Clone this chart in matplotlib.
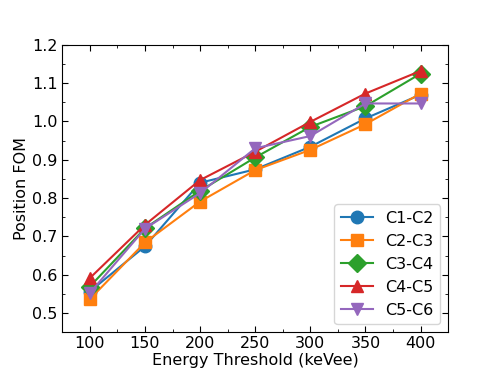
import matplotlib
matplotlib.use("Agg")
import matplotlib.pyplot as plt
from matplotlib.ticker import MultipleLocator

thresholds = [100, 150, 200, 250, 300, 350, 400]

c1_c2 = [0.556, 0.674, 0.840, 0.875, 0.934, 1.008, 1.070]
c2_c3 = [0.536, 0.684, 0.791, 0.873, 0.926, 0.993, 1.073]
c3_c4 = [0.569, 0.721, 0.819, 0.906, 0.986, 1.040, 1.125]
c4_c5 = [0.591, 0.730, 0.847, 0.921, 0.999, 1.073, 1.132]
c5_c6 = [0.552, 0.720, 0.813, 0.930, 0.962, 1.047, 1.047]

labels = ["C1-C2", "C2-C3", "C3-C4", "C4-C5", "C5-C6"]
markers = ["o", "s", "D", "^", "v"]

plt.rcParams["font.size"] = 11.5

fig, ax = plt.subplots(figsize=(4.98, 3.74), dpi=100)
fig.subplots_adjust(left=0.125, right=0.9, top=0.88, bottom=0.112)

for values, label, marker in zip([c1_c2, c2_c3, c3_c4, c4_c5, c5_c6], labels, markers):
    ax.plot(thresholds, values, marker=marker, markersize=9, linewidth=1.5, label=label)

ax.set_xlim(75, 425)
ax.set_ylim(0.45, 1.2)
ax.xaxis.set_major_locator(MultipleLocator(50))
ax.xaxis.set_minor_locator(MultipleLocator(25))
ax.yaxis.set_major_locator(MultipleLocator(0.1))
ax.yaxis.set_minor_locator(MultipleLocator(0.05))
ax.tick_params(which="both", direction="in", top=True, right=True)
ax.tick_params(which="major", length=4)
ax.tick_params(which="minor", length=2)
ax.tick_params(axis="x", which="major", pad=2.5)

ax.set_xlabel("Energy Threshold (keVee)", labelpad=2)
ax.set_ylabel("Position FOM", labelpad=2)
ax.legend(loc="lower right")

fig.savefig("out.png")
